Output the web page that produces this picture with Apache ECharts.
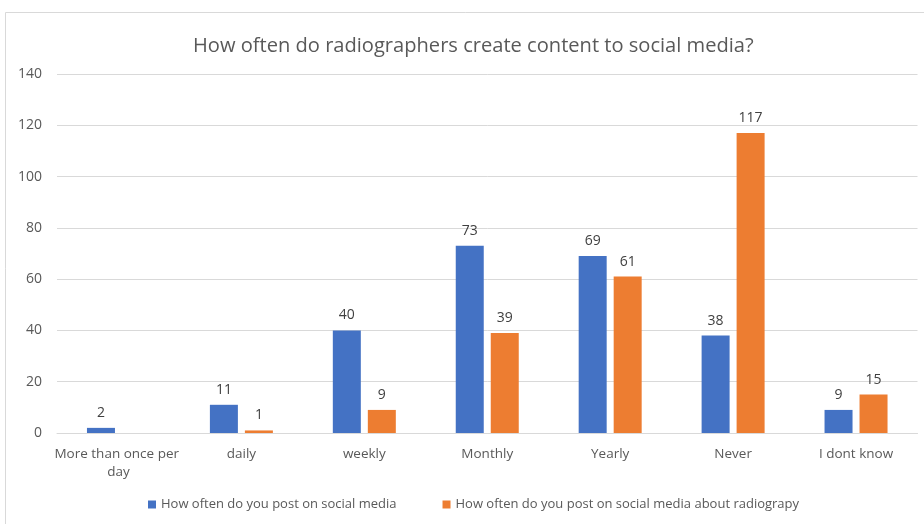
<!DOCTYPE html>
<html>
<head>
<meta charset="utf-8">
<script src="https://cdn.jsdelivr.net/npm/echarts@6/dist/echarts.min.js"></script>
<style>
  html, body { margin: 0; padding: 0; background: #fff; }
  #main { width: 924px; height: 524px; }
</style>
</head>
<body>
<div id="main"></div>
<script>
var categories = ['More than once per day', 'daily', 'weekly', 'Monthly', 'Yearly', 'Never', 'I dont know'];
var postGeneral = [2, 11, 40, 73, 69, 38, 9];
var postRadiography = [null, 1, 9, 39, 61, 117, 15];
var seriesNames = ['How often do you post on social media', 'How often do you post on social media about radiograpy'];

var font = '"Open Sans", sans-serif';

var myChart = echarts.init(document.getElementById('main'));

var option = {
    backgroundColor: '#fff',
    animation: false,
    title: {
        text: 'How often do radiographers create content to social media?',
        left: 188,
        top: 31,
        textStyle: {
            fontFamily: font,
            fontSize: 20.1,
            fontWeight: 'normal',
            color: '#595959'
        }
    },
    graphic: [{
        type: 'rect',
        shape: { x: 5.5, y: 12.5, width: 940, height: 540 },
        style: { fill: 'none', stroke: '#d9d9d9', lineWidth: 1 },
        silent: true
    }],
    legend: {
        bottom: 8,
        left: 143,
        itemWidth: 8,
        itemHeight: 8,
        itemGap: 46,
        icon: 'rect',
        textStyle: { fontFamily: font, fontSize: 13, color: '#595959' },
        data: seriesNames
    },
    grid: {
        left: 57,
        right: 6,
        top: 74,
        bottom: 91
    },
    xAxis: {
        type: 'category',
        data: categories,
        axisTick: { show: false },
        axisLine: { lineStyle: { color: '#d9d9d9' } },
        axisLabel: {
            fontFamily: font,
            fontSize: 13.5,
            color: '#595959',
            margin: 12,
            interval: 0,
            width: 130,
            overflow: 'break',
            lineHeight: 18
        }
    },
    yAxis: {
        type: 'value',
        min: 0,
        max: 140,
        interval: 20,
        axisLine: { show: false },
        axisTick: { show: false },
        splitLine: { lineStyle: { color: '#d9d9d9' } },
        axisLabel: {
            fontFamily: font,
            fontSize: 14,
            color: '#595959',
            margin: 15
        }
    },
    series: [
        {
            name: seriesNames[0],
            type: 'bar',
            data: postGeneral,
            barWidth: 28,
            barGap: '25%',
            itemStyle: { color: '#4472C4' },
            label: {
                show: true,
                position: 'top',
                distance: 8,
                fontFamily: font,
                fontSize: 14,
                color: '#404040'
            }
        },
        {
            name: seriesNames[1],
            type: 'bar',
            data: postRadiography,
            barWidth: 28,
            barGap: '25%',
            itemStyle: { color: '#ED7D31' },
            label: {
                show: true,
                position: 'top',
                distance: 8,
                fontFamily: font,
                fontSize: 14,
                color: '#404040'
            }
        }
    ]
};

myChart.setOption(option);
</script>
</body>
</html>
